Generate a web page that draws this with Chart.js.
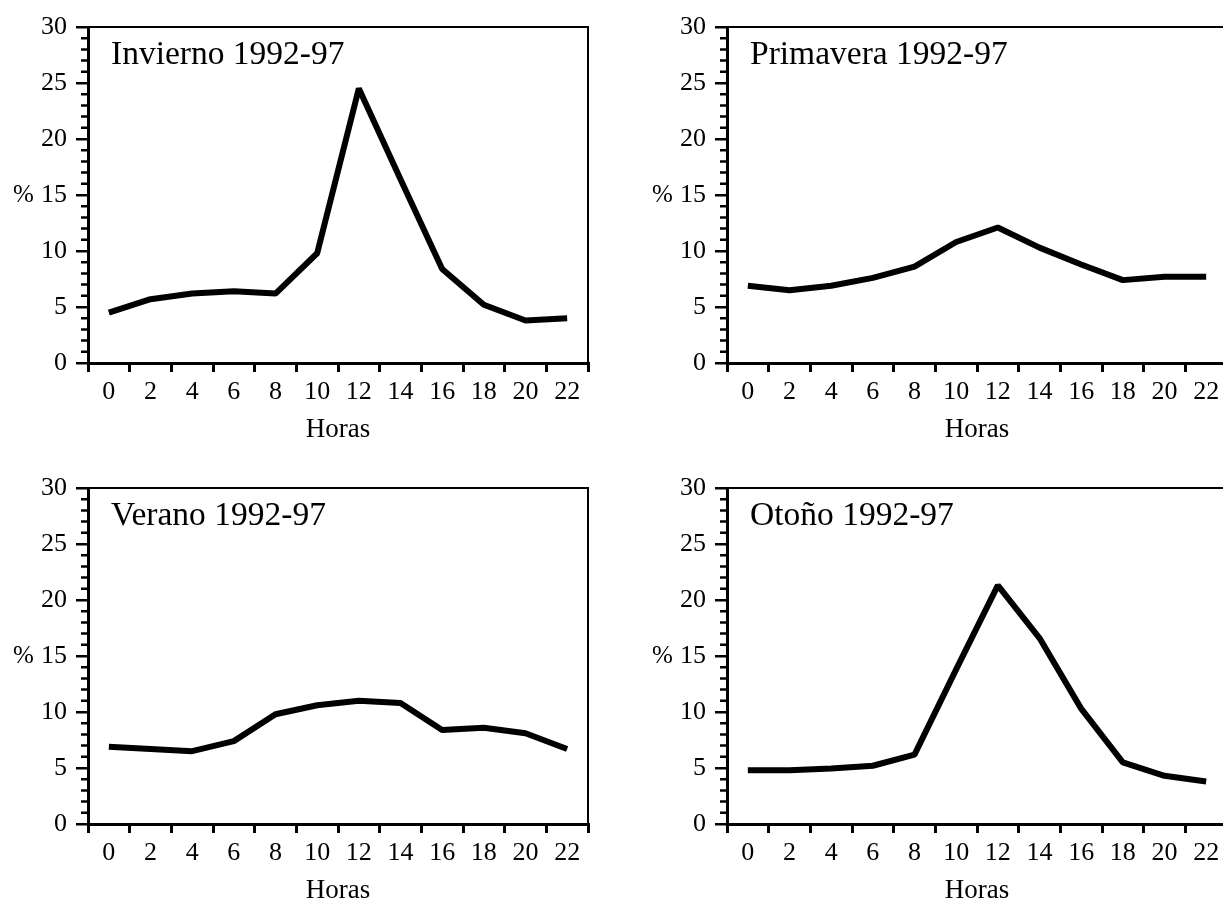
<!DOCTYPE html>
<html>
<head>
<meta charset="utf-8">
<script src="https://cdn.jsdelivr.net/npm/chart.js@4/dist/chart.umd.min.js"></script>
<style>
    html, body { margin: 0; padding: 0; background: #fff; overflow: hidden; width: 1223px; height: 902px; }
    canvas { position: absolute; }
    #invierno { left: 0; top: 0; }
    #primavera { left: 639px; top: 0; }
    #verano { left: 0; top: 461px; }
    #otono { left: 639px; top: 461px; }
</style>
</head>
<body>
<canvas id="invierno" width="612" height="460"></canvas>
<canvas id="primavera" width="612" height="460"></canvas>
<canvas id="verano" width="612" height="460"></canvas>
<canvas id="otono" width="612" height="460"></canvas>
<script>
    // Horas del dia (etiquetas del eje x)
    var horas = ['0', '2', '4', '6', '8', '10', '12', '14', '16', '18', '20', '22'];

    // % por franja horaria
    var invierno = [4.5, 5.7, 6.2, 6.4, 6.2, 9.8, 24.5, 16.4, 8.4, 5.2, 3.8, 4.0];
    var primavera = [6.9, 6.5, 6.9, 7.6, 8.6, 10.8, 12.1, 10.3, 8.8, 7.4, 7.7, 7.7];
    var verano = [6.9, 6.7, 6.5, 7.4, 9.8, 10.6, 11.0, 10.8, 8.4, 8.6, 8.1, 6.7];
    var otono = [4.8, 4.8, 4.95, 5.2, 6.2, 13.8, 21.3, 16.6, 10.3, 5.5, 4.3, 3.8];

    var titulos = ['Invierno 1992-97', 'Primavera 1992-97', 'Verano 1992-97', 'Otoño 1992-97'];

    var serif = '"Liberation Serif", "Times New Roman", serif';

    // marco superior/derecho, marcas menores del eje y, "%" y titulo del panel
    var decor = {
        id: 'decor',
        afterDraw: function (chart, args, opts) {
            var ctx = chart.ctx;
            var area = chart.chartArea;
            var y = chart.scales.y;
            ctx.save();
            ctx.strokeStyle = '#000';
            ctx.lineWidth = 2;
            ctx.beginPath();
            ctx.moveTo(area.left, area.top);
            ctx.lineTo(area.right, area.top);
            ctx.lineTo(area.right, area.bottom);
            ctx.stroke();

            ctx.lineWidth = 2.5;
            ctx.beginPath();
            for (var v = 1; v < 30; v++) {
                if (v % 5 === 0) continue;
                var py = y.getPixelForValue(v);
                ctx.moveTo(area.left - 7, py);
                ctx.lineTo(area.left, py);
            }
            ctx.stroke();

            ctx.fillStyle = '#000';
            ctx.font = '25px ' + serif;
            ctx.textAlign = 'left';
            ctx.textBaseline = 'middle';
            ctx.fillText('%', area.left - 75, y.getPixelForValue(15));

            ctx.font = '33.5px ' + serif;
            ctx.textBaseline = 'alphabetic';
            ctx.fillText(opts.text, area.left + 23, area.top + 37);
            ctx.restore();
        }
    };

    function dibujar(id, datos, titulo) {
        new Chart(document.getElementById(id), {
            type: 'line',
            data: {
                labels: horas,
                datasets: [{
                    data: datos,
                    borderColor: '#000',
                    borderWidth: 6,
                    borderJoinStyle: 'bevel',
                    pointRadius: 0,
                    tension: 0,
                    fill: false
                }]
            },
            options: {
                responsive: false,
                animation: false,
                layout: {padding: {left: 0, top: 27, right: 24, bottom: 0}},
                plugins: {
                    legend: {display: false},
                    tooltip: {enabled: false},
                    decor: {text: titulo}
                },
                scales: {
                    x: {
                        offset: true,
                        grid: {offset: true, drawOnChartArea: false, color: '#000', lineWidth: 3, tickLength: 9},
                        border: {color: '#000', width: 3},
                        ticks: {color: '#000', padding: 5, maxRotation: 0, autoSkip: false, font: {family: serif, size: 26}},
                        title: {display: true, text: 'Horas', color: '#000', font: {family: serif, size: 27}, padding: {top: 0, bottom: 14}},
                        afterFit: function (s) {
                            s.height = 97;
                            s.paddingLeft = 0;
                            s.paddingRight = 0;
                        }
                    },
                    y: {
                        min: 0,
                        max: 30,
                        grid: {drawOnChartArea: false, color: '#000', lineWidth: 2.5, tickLength: 12},
                        border: {color: '#000', width: 3},
                        ticks: {stepSize: 5, color: '#000', padding: 9, font: {family: serif, size: 26}},
                        afterFit: function (s) {
                            s.width = 88;
                            s.paddingTop = 0;
                            s.paddingBottom = 0;
                        }
                    }
                }
            },
            plugins: [decor]
        });
    }

    dibujar('invierno', invierno, titulos[0]);
    dibujar('primavera', primavera, titulos[1]);
    dibujar('verano', verano, titulos[2]);
    dibujar('otono', otono, titulos[3]);
</script>
</body>
</html>
